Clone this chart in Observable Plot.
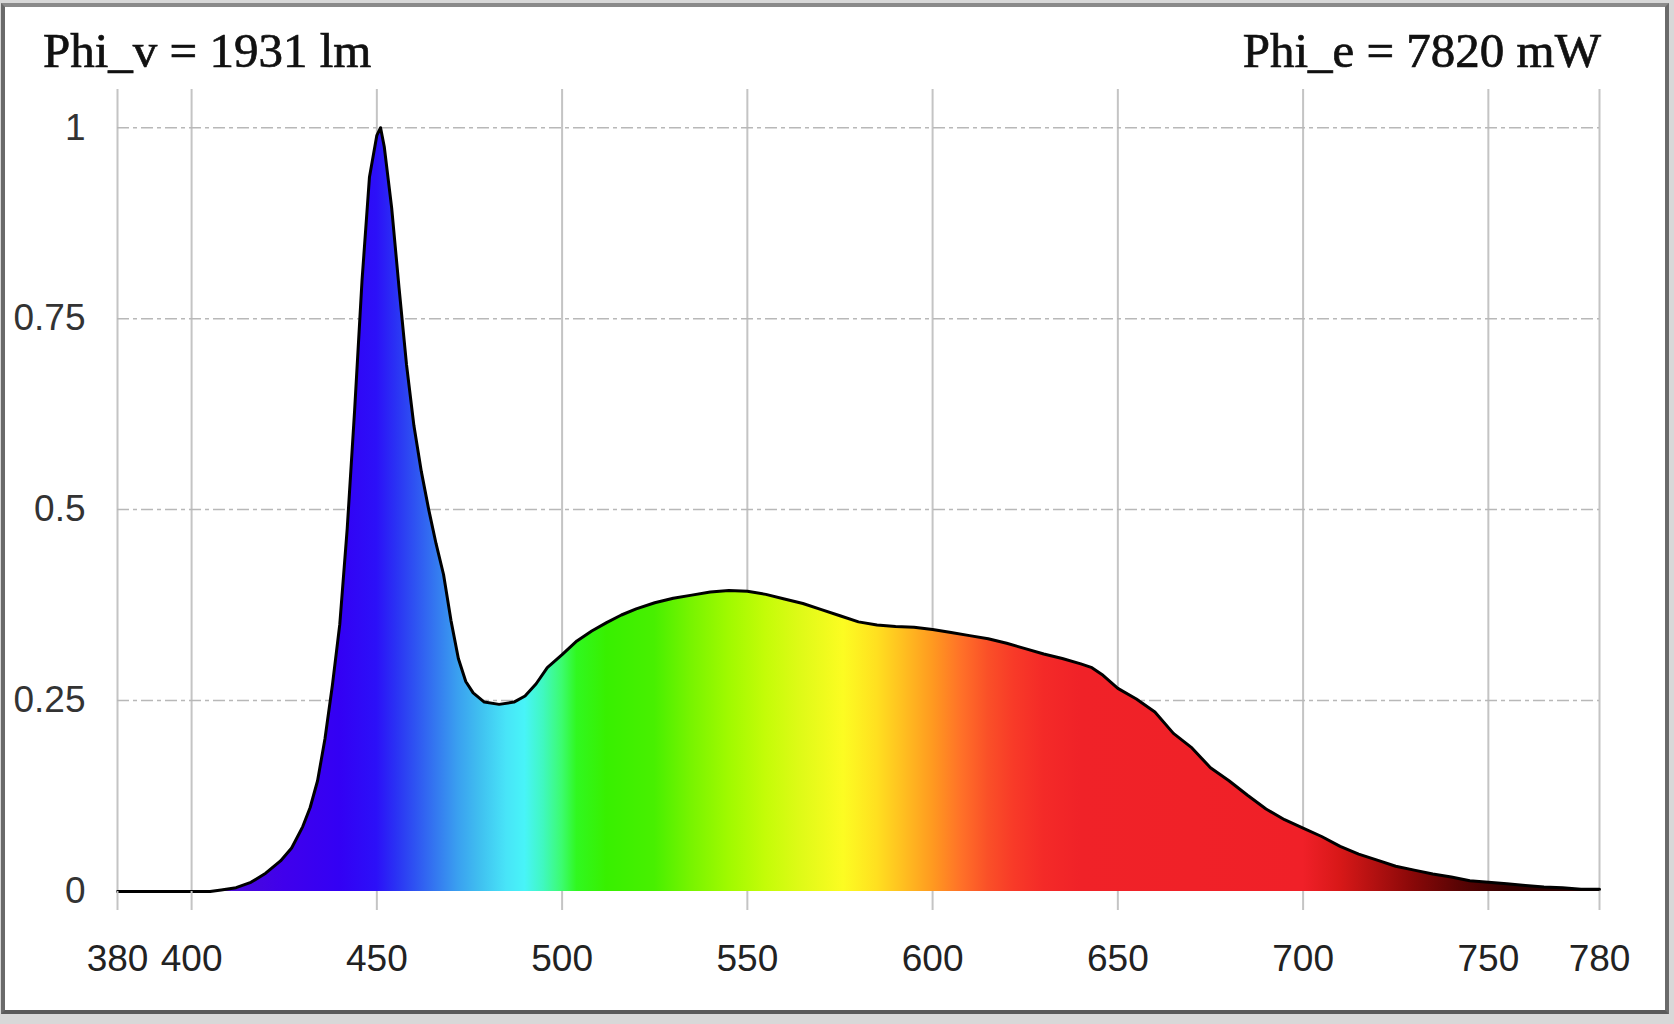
<!DOCTYPE html>
<html>
<head>
<meta charset="utf-8">
<script src="https://cdn.jsdelivr.net/npm/d3@7"></script>
<script src="https://cdn.jsdelivr.net/npm/@observablehq/plot@0.6"></script>
<style>
  html, body { margin: 0; padding: 0; background: #d8d8d8; }
  #wrap { position: relative; width: 1674px; height: 1024px; overflow: hidden; }
  #frame { position: absolute; left: 1px; top: 3px; width: 1668px; height: 1011px; box-sizing: border-box;
           border-top: 4px solid #8a8a8a; border-left: 4px solid #6a6a6a; border-right: 4px solid #6a6a6a; border-bottom: 4px solid #5a5a5a;
           background: #fff; }
  #chart { position: absolute; left: 0; top: 0; }
</style>
</head>
<body>
<div id="wrap"><div id="frame"></div><div id="chart"></div></div>
<script>
// ---- data ----
const titleLeft = "Phi_v = 1931 lm";
const titleRight = "Phi_e = 7820 mW";

const wavelengths = [380,390,400,405,408,412,416,420,424,427,430,432,434,436,438,440,442,444,446,448,450,451,452,454,456,458,460,462,464,466,468,470,472,474,476,479,483,487,490,493,496,500,504,508,512,516,520,525,530,535,540,545,550,555,560,565,570,575,580,585,590,595,600,605,610,615,620,625,630,635,640,643,646,650,655,660,665,670,675,680,685,690,695,700,705,710,715,720,725,730,735,740,745,750,755,760,765,770,775,780];
const intensity = [0,0,0,0,0.002,0.005,0.012,0.024,0.04,0.057,0.085,0.11,0.145,0.2,0.27,0.35,0.475,0.63,0.8,0.935,0.99,1.0,0.975,0.895,0.79,0.69,0.61,0.55,0.5,0.455,0.415,0.355,0.305,0.275,0.26,0.248,0.245,0.248,0.256,0.272,0.293,0.31,0.328,0.341,0.352,0.362,0.37,0.378,0.384,0.388,0.392,0.394,0.393,0.389,0.383,0.377,0.369,0.361,0.353,0.349,0.347,0.346,0.343,0.339,0.335,0.331,0.325,0.318,0.311,0.305,0.298,0.293,0.283,0.266,0.252,0.235,0.207,0.188,0.162,0.145,0.126,0.108,0.094,0.083,0.072,0.059,0.049,0.041,0.033,0.028,0.023,0.019,0.014,0.012,0.010,0.008,0.006,0.005,0.003,0.003];

const xTicks = [380,400,450,500,550,600,650,700,750,780];
const yTicks = [0,0.25,0.5,0.75,1];
const yGrid = [0.25,0.5,0.75,1];

const stopWavelengths = [380,410,425,440,450,455,460,466,472,478,485,490,495,500,504,512,525,535,545,555,565,576,585,592,600,608,615,622,630,640,700,710,720,730,742,755,780];
const stopColors = ["#5000c0","#4a0ad8","#4000ec","#3300f4","#2c10f8","#2a30f4","#2e50f2","#3478f0","#3aa0f0","#40c0f0","#48e4f8","#48f4f8","#40f8c0","#3cfc70","#30f820","#38f000","#48f000","#78f400","#a0fa00","#c4fc08","#e0fa18","#fcfc22","#ffe020","#ffc020","#ff9a20","#ff7028","#fa5028","#f83a28","#f42a28","#f02228","#f02028","#d81818","#b01010","#880808","#5a0404","#380000","#200000"];

const data = wavelengths.map((w, i) => ({w, v: intensity[i]}));

const gradient = () => {
  const defs = d3.create("svg:defs");
  const lg = defs.append("linearGradient").attr("id", "spec")
    .attr("x1", 0).attr("x2", 1).attr("y1", 0).attr("y2", 0);
  stopWavelengths.forEach((w, i) =>
    lg.append("stop").attr("offset", (w - 380) / 400).attr("stop-color", stopColors[i]));
  return defs.node();
};

const chart = Plot.plot({
  width: 1674,
  height: 1024,
  marginLeft: 117,
  marginRight: 75,
  marginTop: 89,
  marginBottom: 133,
  style: {background: "transparent", fontFamily: "'Liberation Sans', Arial, sans-serif"},
  x: {domain: [380, 780]},
  y: {domain: [0, 1.05]},
  marks: [
    gradient,
    Plot.gridX(xTicks, {stroke: "#c4c4c4", strokeOpacity: 1, strokeWidth: 2}),
    Plot.ruleY(yGrid, {x1: 380, x2: 780, stroke: "#b8b8b8", strokeWidth: 1.5, strokeDasharray: "12,4,4,4"}),
    Plot.areaY(data, {x: "w", y: "v", fill: "url(#spec)"}),
    Plot.line(data, {x: "w", y: "v", stroke: "#000", strokeWidth: 3}),
    Plot.axisX({ticks: xTicks, tickSize: 19, tickPadding: 34, stroke: "#c4c4c4", strokeWidth: 2,
      tickFormat: d => String(d), fontSize: 37, fill: "#222", label: null}),
    Plot.axisY({ticks: yTicks, tickSize: 0, tickPadding: 32,
      tickFormat: d => String(d), fontSize: 37, fill: "#333", label: null})
  ]
});

const svg = d3.select(chart);
[[titleLeft, 43, "start"], [titleRight, 1601, "end"]].forEach(([t, x, anchor]) =>
  svg.append("text").attr("x", x).attr("y", 67).attr("text-anchor", anchor)
    .attr("font-family", "'Liberation Serif', 'Times New Roman', serif").attr("font-size", 49)
    .attr("fill", "#111").attr("stroke", "#111").attr("stroke-width", 0.7).text(t));

document.getElementById("chart").appendChild(chart);
</script>
</body>
</html>
